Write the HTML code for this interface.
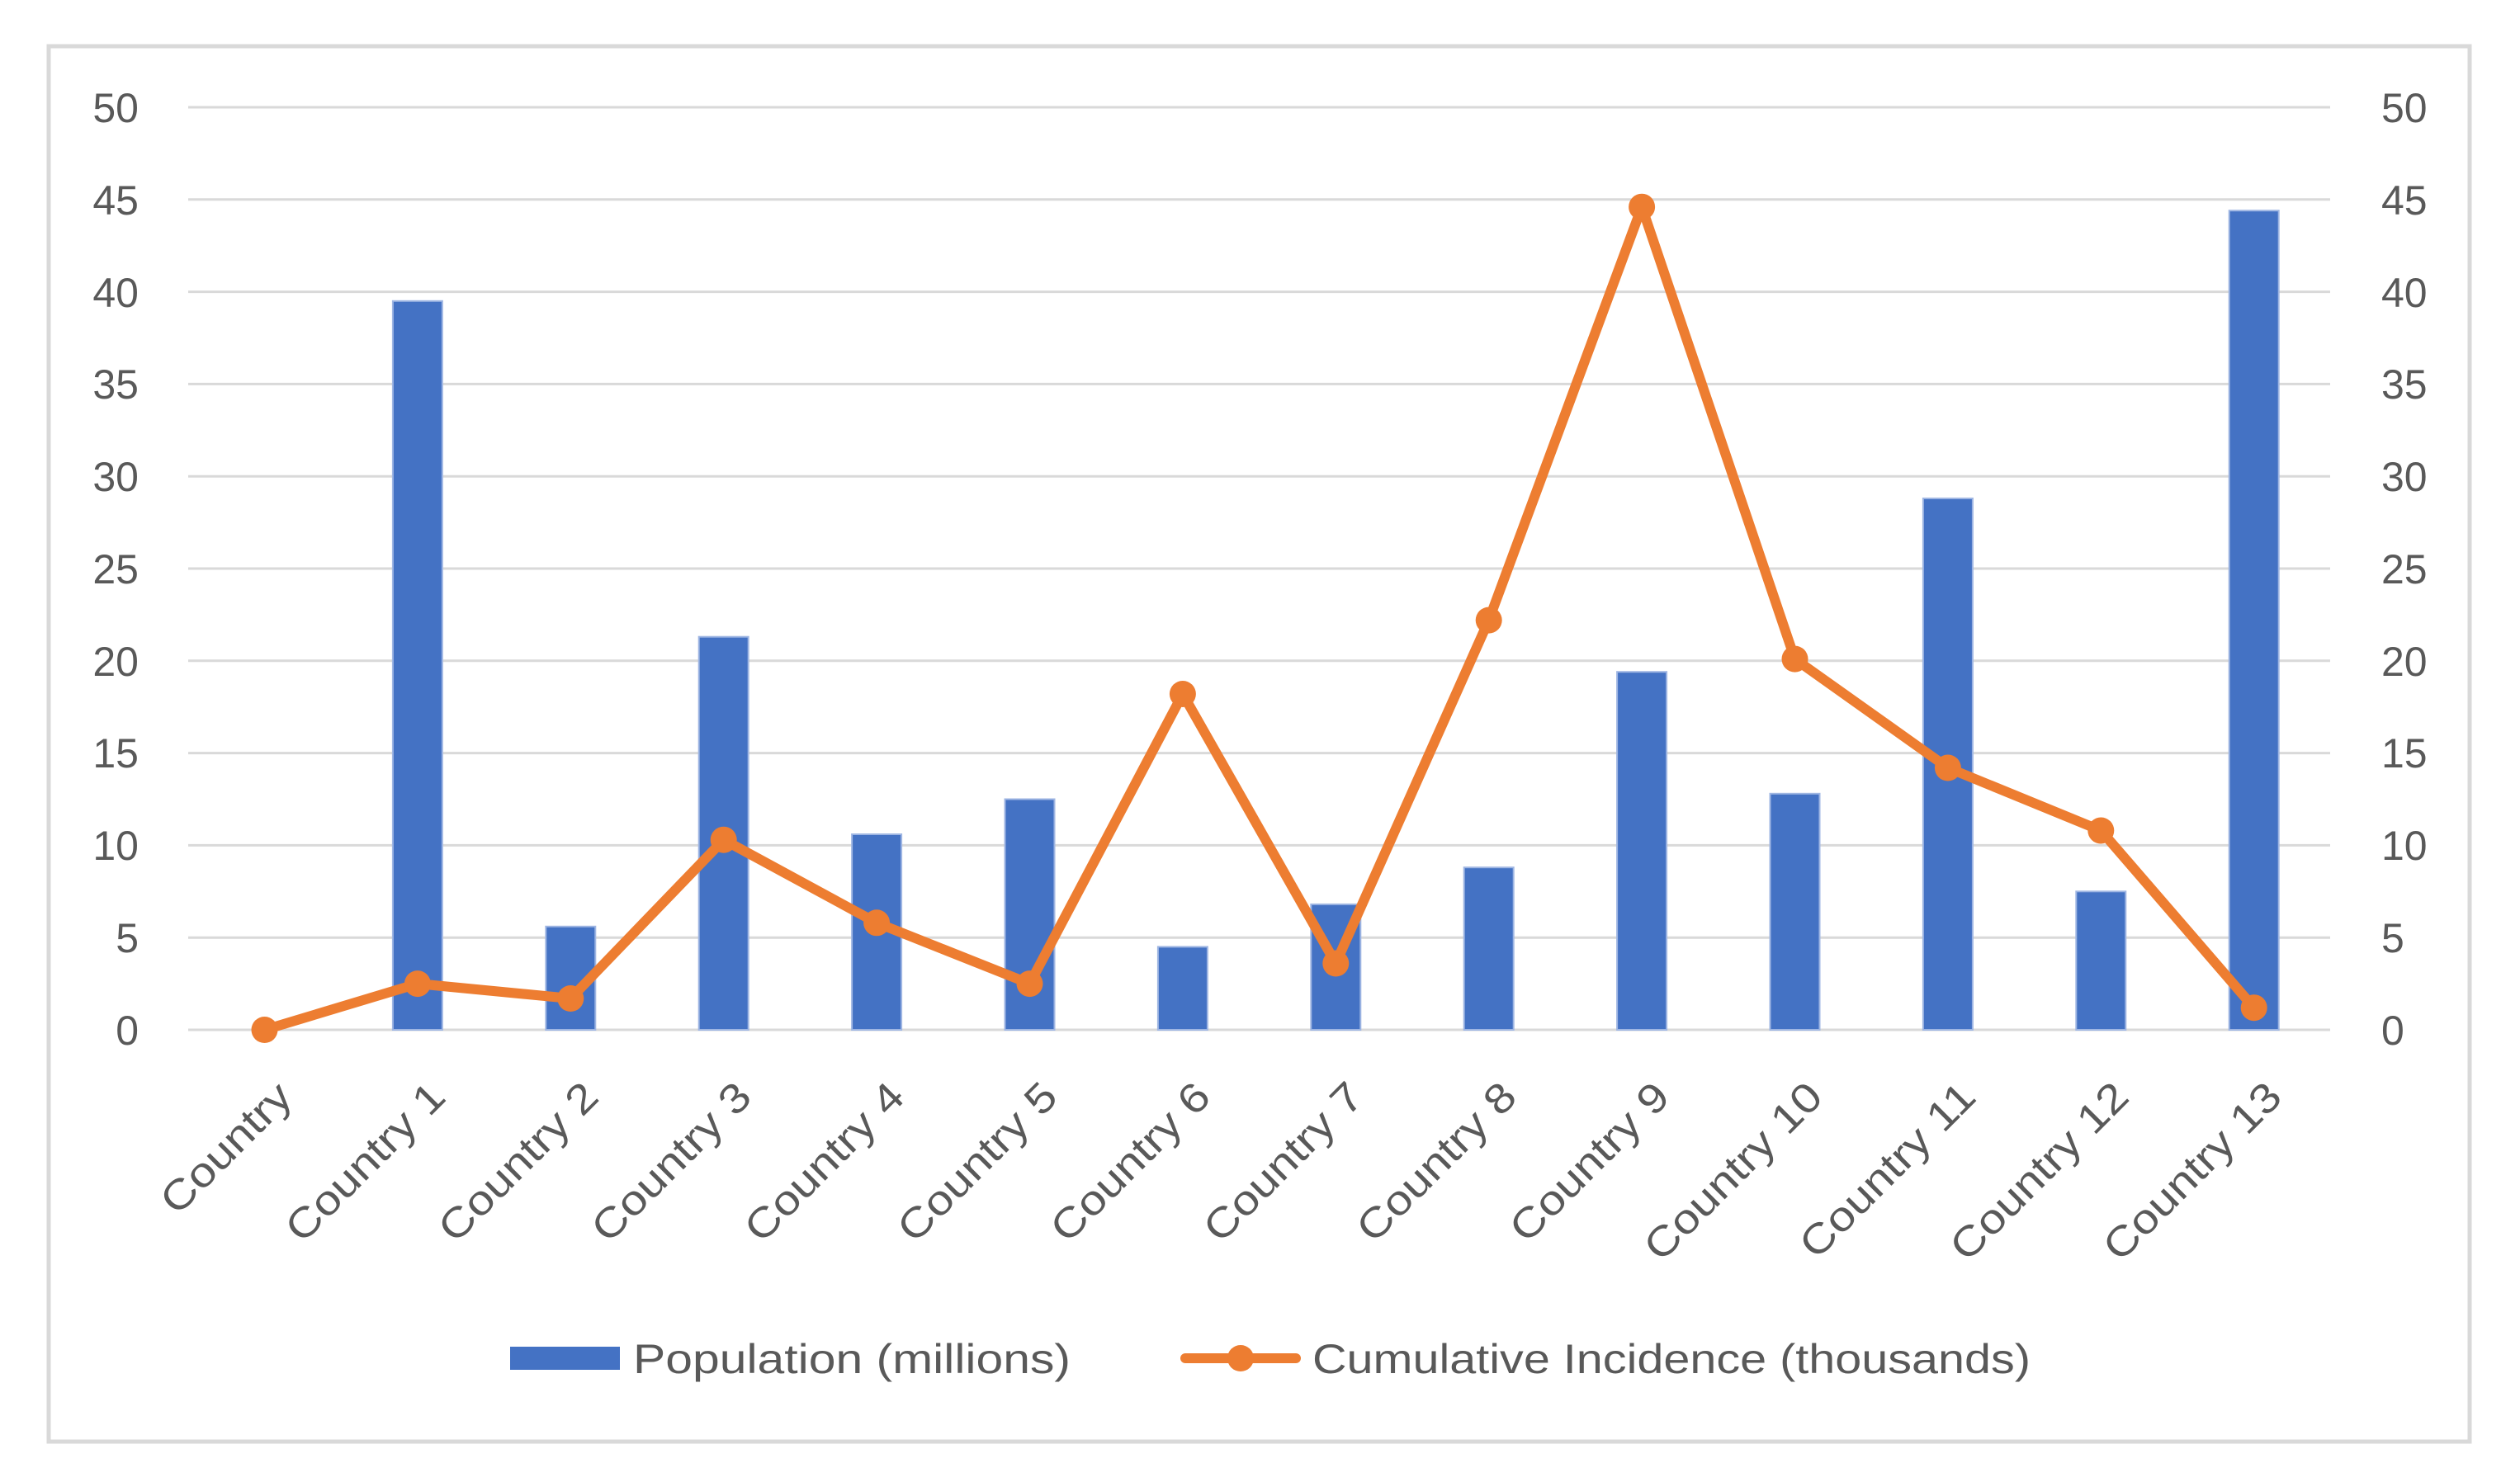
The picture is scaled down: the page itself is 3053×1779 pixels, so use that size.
<!DOCTYPE html>
<html><head><meta charset="utf-8"><style>
html,body{margin:0;padding:0;background:#fff;}
svg{display:block;}
text{font-family:"Liberation Sans",sans-serif;fill:#595959;}
</style></head><body>
<svg width="3053" height="1779" viewBox="0 0 3053 1779" xmlns="http://www.w3.org/2000/svg">
<rect x="0" y="0" width="3053" height="1779" fill="#fff"/>
<rect x="59" y="56" width="2933" height="1691" fill="#fff" stroke="#d9d9d9" stroke-width="5"/>
<g stroke="#d9d9d9" stroke-width="3">
<line x1="228" y1="130" x2="2823" y2="130"/>
<line x1="228" y1="241.8" x2="2823" y2="241.8"/>
<line x1="228" y1="353.6" x2="2823" y2="353.6"/>
<line x1="228" y1="465.4" x2="2823" y2="465.4"/>
<line x1="228" y1="577.2" x2="2823" y2="577.2"/>
<line x1="228" y1="689" x2="2823" y2="689"/>
<line x1="228" y1="800.8" x2="2823" y2="800.8"/>
<line x1="228" y1="912.6" x2="2823" y2="912.6"/>
<line x1="228" y1="1024.4" x2="2823" y2="1024.4"/>
<line x1="228" y1="1136.2" x2="2823" y2="1136.2"/>
<line x1="228" y1="1248" x2="2823" y2="1248"/>
</g>
<g font-size="50" text-anchor="end">
<text x="168" y="148">50</text><text x="168" y="260">45</text><text x="168" y="372">40</text>
<text x="168" y="483">35</text><text x="168" y="595">30</text><text x="168" y="707">25</text>
<text x="168" y="819">20</text><text x="168" y="930">15</text><text x="168" y="1042">10</text>
<text x="168" y="1154">5</text><text x="168" y="1266">0</text>
</g>
<g font-size="50" text-anchor="start">
<text x="2885" y="148">50</text><text x="2885" y="260">45</text><text x="2885" y="372">40</text>
<text x="2885" y="483">35</text><text x="2885" y="595">30</text><text x="2885" y="707">25</text>
<text x="2885" y="819">20</text><text x="2885" y="930">15</text><text x="2885" y="1042">10</text>
<text x="2885" y="1154">5</text><text x="2885" y="1266">0</text>
</g>
<g fill="#4472C4" stroke="#9fb6e3" stroke-width="2">
<rect x="475.9" y="364.8" width="60" height="883.2"/>
<rect x="661.3" y="1122.8" width="60" height="125.2"/>
<rect x="846.7" y="771.7" width="60" height="476.3"/>
<rect x="1032.1" y="1011" width="60" height="237"/>
<rect x="1217.5" y="968.5" width="60" height="279.5"/>
<rect x="1402.9" y="1147.4" width="60" height="100.6"/>
<rect x="1588.3" y="1095.9" width="60" height="152.1"/>
<rect x="1773.7" y="1051.2" width="60" height="196.8"/>
<rect x="1959.1" y="814.2" width="60" height="433.8"/>
<rect x="2144.5" y="961.8" width="60" height="286.2"/>
<rect x="2329.9" y="604" width="60" height="644"/>
<rect x="2515.3" y="1080.3" width="60" height="167.7"/>
<rect x="2700.7" y="255.2" width="60" height="992.8"/>
</g>
<polyline fill="none" stroke="#ED7D31" stroke-width="12" stroke-linejoin="round" points="320.5,1248 505.9,1192.1 691.3,1210 876.7,1017.7 1062.1,1118.3 1247.5,1192.1 1432.9,841 1618.3,1167.5 1803.7,751.6 1989.1,250.7 2174.5,798.6 2359.9,930.5 2545.3,1006.5 2730.7,1221.2"/>
<g fill="#ED7D31">
<circle cx="320.5" cy="1248" r="16"/><circle cx="505.9" cy="1192.1" r="16"/><circle cx="691.3" cy="1210" r="16"/>
<circle cx="876.7" cy="1017.7" r="16"/><circle cx="1062.1" cy="1118.3" r="16"/><circle cx="1247.5" cy="1192.1" r="16"/>
<circle cx="1432.9" cy="841" r="16"/><circle cx="1618.3" cy="1167.5" r="16"/><circle cx="1803.7" cy="751.6" r="16"/>
<circle cx="1989.1" cy="250.7" r="16"/><circle cx="2174.5" cy="798.6" r="16"/><circle cx="2359.9" cy="930.5" r="16"/>
<circle cx="2545.3" cy="1006.5" r="16"/><circle cx="2730.7" cy="1221.2" r="16"/>
</g>
<g font-size="50" text-anchor="end">
<text transform="translate(357,1332) rotate(-45) scale(1.15,1)">Country</text>
<text transform="translate(542.4,1332) rotate(-45) scale(1.15,1)">Country 1</text>
<text transform="translate(727.8,1332) rotate(-45) scale(1.15,1)">Country 2</text>
<text transform="translate(913.2,1332) rotate(-45) scale(1.15,1)">Country 3</text>
<text transform="translate(1098.6,1332) rotate(-45) scale(1.15,1)">Country 4</text>
<text transform="translate(1284,1332) rotate(-45) scale(1.15,1)">Country 5</text>
<text transform="translate(1469.4,1332) rotate(-45) scale(1.15,1)">Country 6</text>
<text transform="translate(1654.8,1332) rotate(-45) scale(1.15,1)">Country 7</text>
<text transform="translate(1840.2,1332) rotate(-45) scale(1.15,1)">Country 8</text>
<text transform="translate(2025.6,1332) rotate(-45) scale(1.15,1)">Country 9</text>
<text transform="translate(2211,1332) rotate(-45) scale(1.15,1)">Country 10</text>
<text transform="translate(2396.4,1332) rotate(-45) scale(1.15,1)">Country 11</text>
<text transform="translate(2581.8,1332) rotate(-45) scale(1.15,1)">Country 12</text>
<text transform="translate(2767.2,1332) rotate(-45) scale(1.15,1)">Country 13</text>
</g>
<rect x="618" y="1632" width="133" height="28" fill="#4472C4"/>
<text x="767" y="1664" font-size="50" textLength="530" lengthAdjust="spacingAndGlyphs">Population (millions)</text>
<line x1="1436" y1="1646" x2="1570" y2="1646" stroke="#ED7D31" stroke-width="12" stroke-linecap="round"/>
<circle cx="1503" cy="1646" r="16" fill="#ED7D31"/>
<text x="1590" y="1664" font-size="50" textLength="870" lengthAdjust="spacingAndGlyphs">Cumulative Incidence (thousands)</text>
</svg>
</body></html>
